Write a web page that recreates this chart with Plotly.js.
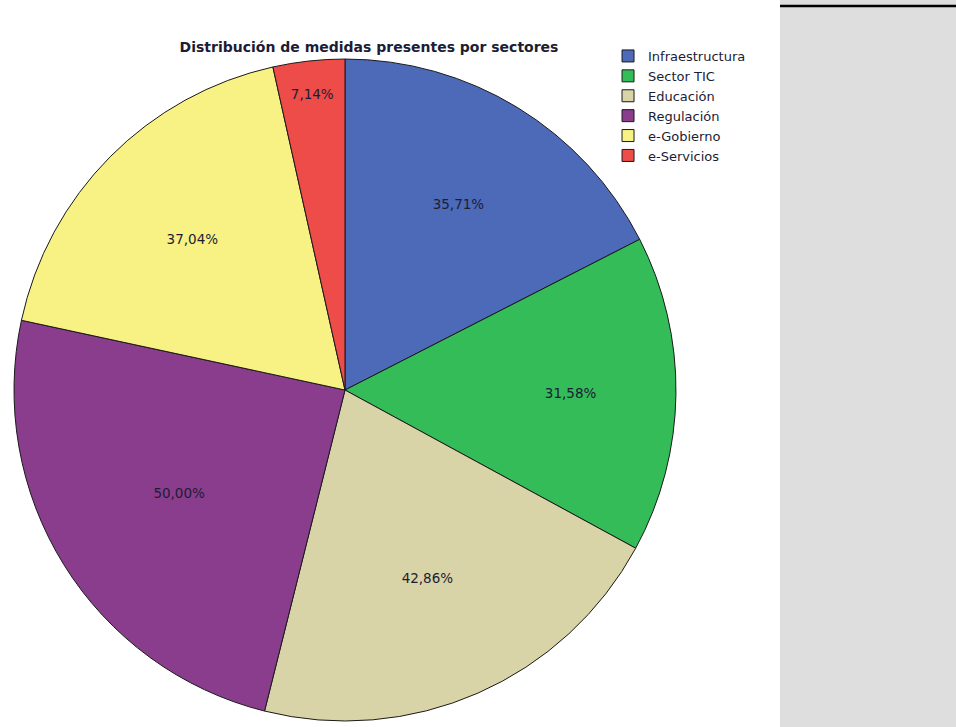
<!DOCTYPE html>
<html>
<head>
<meta charset="utf-8">
<script src="https://cdn.plot.ly/plotly-3.0.1.min.js"></script>
<style>
html,body{margin:0;padding:0;background:#fff;}
#chart{width:956px;height:727px;}
</style>
</head>
<body>
<div id="chart"></div>
<script>
const sectors = ["Infraestructura", "Sector TIC", "Educación", "Regulación", "e-Gobierno", "e-Servicios"];
const percentages = [35.71, 31.58, 42.86, 50.00, 37.04, 7.14];
const sliceColors = ["#4c6ab8", "#33bc58", "#d8d4a7", "#8a3d8c", "#f8f183", "#ee4c48"];
const chartTitle = "Distribución de medidas presentes por sectores";

const trace = {
  type: "pie",
  labels: sectors,
  values: percentages,
  sort: false,
  direction: "clockwise",
  rotation: 0,
  marker: {colors: sliceColors, line: {color: "#1a1a1a", width: 1}},
  texttemplate: "%{value:.2f}%",
  textposition: "inside",
  insidetextorientation: "horizontal",
  textfont: {family: "DejaVu Sans", size: 13.5, color: "#1c1c35"},
  hoverinfo: "label+value",
  domain: {x: [0.01464, 0.7071], y: [0.00825, 0.9188]}
};

const layout = {
  width: 956,
  height: 727,
  margin: {l: 0, r: 0, t: 0, b: 0},
  paper_bgcolor: "#ffffff",
  separators: ",.",
  font: {family: "DejaVu Sans", color: "#1c1c35"},
  title: {
    text: "<b>" + chartTitle + "</b>",
    font: {family: "DejaVu Sans", size: 14, color: "#1c1c35"},
    x: 369 / 956, xanchor: "center",
    y: 1 - 47 / 727, yanchor: "middle"
  },
  showlegend: true,
  legend: {
    x: 0.636, xanchor: "left",
    y: 1 - 41 / 727, yanchor: "top",
    bgcolor: "rgba(0,0,0,0)",
    font: {family: "DejaVu Sans", size: 13, color: "#1c1c35"},
    itemwidth: 30,
    tracegroupgap: 0
  },
  shapes: [
    {type: "rect", xref: "paper", yref: "paper", x0: 780 / 956, x1: 1, y0: 0, y1: 1,
     fillcolor: "#dedede", line: {width: 0}, layer: "below"},
    {type: "line", xref: "paper", yref: "paper", x0: 780 / 956, x1: 1, y0: 1 - 6 / 727, y1: 1 - 6 / 727,
     line: {color: "#000000", width: 2.5}}
  ]
};

Plotly.newPlot("chart", [trace], layout, {displayModeBar: false, staticPlot: true});
</script>
</body>
</html>
